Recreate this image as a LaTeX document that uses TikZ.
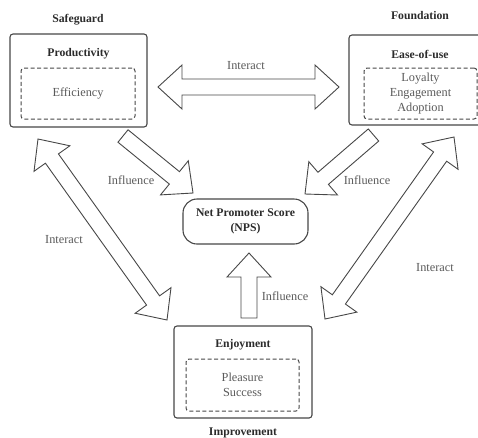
\documentclass[tikz,border=0pt]{standalone}
\usepackage{fontspec}
\setmainfont{Liberation Serif}
\usetikzlibrary{calc}

\definecolor{linegray}{HTML}{474747}
\definecolor{textgray}{HTML}{5A5A5A}
\definecolor{titlegray}{HTML}{2B2B2B}

\newcommand{\picfont}{\fontsize{12.3pt}{15pt}\selectfont}
\newcommand{\titlefont}{\fontsize{11.7pt}{15pt}\selectfont\bfseries}

\tikzset{
  box/.style={draw=linegray, line width=1.1pt, rounded corners=3pt, inner sep=0pt},
  dashbox/.style={draw=linegray, line width=1pt, dash pattern=on 4pt off 2.5pt, rounded corners=3pt, inner sep=0pt, text=textgray, align=center},
  boxtitle/.style={font=\titlefont, text=titlegray, inner sep=0pt},
  lbl/.style={text=textgray, inner sep=0pt},
  blockarr/.style={draw=linegray, line width=0.9pt, fill=white, line join=miter},
}

% block arrow from #1 (tail) to #2 (tip)
\newcommand{\singlearrow}[2]{%
  \coordinate (ha) at ($(#2)!24pt!(#1)$);
  \draw[blockarr] ($(#1)!8pt!90:(#2)$) -- ($(ha)!8pt!90:(#2)$) -- ($(ha)!22pt!90:(#2)$) -- (#2)
    -- ($(ha)!22pt!-90:(#2)$) -- ($(ha)!8pt!-90:(#2)$) -- ($(#1)!8pt!-90:(#2)$) -- cycle;
}
% block arrow with heads at #1 and #2
\newcommand{\doublearrow}[2]{%
  \coordinate (ha) at ($(#2)!24pt!(#1)$);
  \coordinate (hb) at ($(#1)!24pt!(#2)$);
  \draw[blockarr] (#1) -- ($(hb)!22pt!90:(#2)$) -- ($(hb)!8pt!90:(#2)$) -- ($(ha)!8pt!90:(#2)$)
    -- ($(ha)!22pt!90:(#2)$) -- (#2) -- ($(ha)!22pt!-90:(#2)$) -- ($(ha)!8pt!-90:(#2)$)
    -- ($(hb)!8pt!-90:(#2)$) -- ($(hb)!22pt!-90:(#2)$) -- cycle;
}

\begin{document}
\begin{tikzpicture}[x=1pt,y=-1pt,font=\picfont]
\useasboundingbox (0,0) rectangle (478,437);
\clip (0,0) rectangle (478,437);

\begin{scope}
\node[box, minimum width=137pt, minimum height=93pt] (prod) at (78.5,80.5) {};
\node[boxtitle] (prodtitle) at (78.5,54) {Productivity};
\node[dashbox, minimum width=114pt, minimum height=51pt] (eff) at (78,93.5) {Efficiency};
\node[boxtitle] (safeguard) at (78,20) {Safeguard};

\node[box, minimum width=138pt, minimum height=90pt] (ease) at (418,80) {};
\node[boxtitle] (easetitle) at (420,54) {Ease-of-use};
\node[dashbox, minimum width=113pt, minimum height=51pt] (loyal) at (420.5,93.5) {Loyalty\\Engagement\\Adoption};
\node[boxtitle] (foundation) at (420,16) {Foundation};

\node[box, minimum width=138pt, minimum height=92pt] (enjoy) at (243,372) {};
\node[boxtitle] (enjoytitle) at (243,345) {Enjoyment};
\node[dashbox, minimum width=113pt, minimum height=52pt] (pleas) at (242.5,385) {Pleasure\\Success};
\node[boxtitle] (improvement) at (243,433) {Improvement};

\node[box, boxtitle, inner sep=0pt, rounded corners=14pt, minimum width=125pt, minimum height=45pt, align=center] (nps) at (245.5,221.5) {Net Promoter Score\\(NPS)};
\end{scope}

\coordinate (prodout) at (123,136);
\coordinate (npsleft) at (193,193);
\coordinate (easeout) at (373.5,135);
\coordinate (npsright) at (305,194);
\coordinate (enjoyout) at (249,318);
\coordinate (npsbottom) at (249,253);
\coordinate (prodright) at (158,87);
\coordinate (easeleft) at (339,87);
\coordinate (prodbottom) at (38,139);
\coordinate (enjoyleft) at (167,320);
\coordinate (enjoyright) at (325,319);
\coordinate (easebottom) at (454,137);

\singlearrow{prodout}{npsleft}
\singlearrow{easeout}{npsright}
\singlearrow{enjoyout}{npsbottom}
\doublearrow{prodright}{easeleft}
\doublearrow{prodbottom}{enjoyleft}
\doublearrow{enjoyright}{easebottom}

\node[lbl] (interacttop) at (246,66) {Interact};
\node[lbl] (interactleft) at (64,240) {Interact};
\node[lbl] (interactright) at (435,268) {Interact};
\node[lbl] (influenceleft) at (131,180) {Influence};
\node[lbl] (influenceright) at (367,180) {Influence};
\node[lbl] (influencebottom) at (285,296) {Influence};

\end{tikzpicture}
\end{document}
